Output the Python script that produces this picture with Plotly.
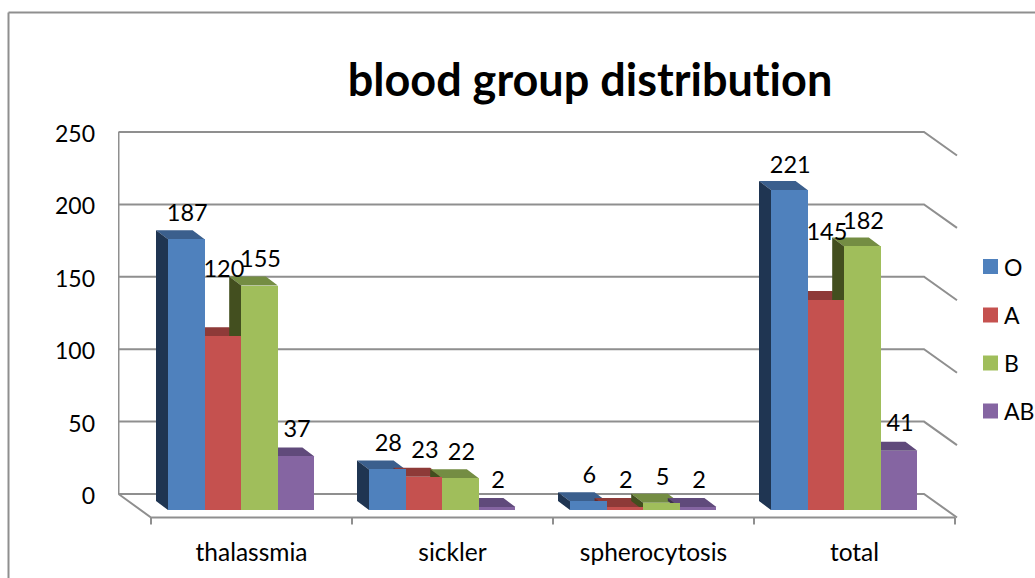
import plotly.graph_objects as go

# ---- data ----
categories = ["thalassmia", "sickler", "spherocytosis", "total"]
series_names = ["O", "A", "B", "AB"]
values_O = [187, 28, 6, 221]
values_A = [120, 23, 2, 145]
values_B = [155, 22, 5, 182]
values_AB = [37, 2, 2, 41]
y_ticks = [0, 50, 100, 150, 200, 250]

# ---- style ----
all_values = [values_O, values_A, values_B, values_AB]
front_colors = ["#4F81BD", "#C5514F", "#A0BE5B", "#8565A2"]
top_colors = ["#3B5F8D", "#8E3A38", "#748D43", "#604A7B"]
side_colors = ["#1F3552", "#6B2B2A", "#434F1F", "#3F3150"]
# label lift above the bar top, indexed [series][category]
label_lift_px = [[24, 24, 24, 23], [65, 25, 25, 66], [24, 24, 24, 23], [25, 25, 25, 26]]
FONT = "Lato"
W, H = 1035, 578
GRAY = "#8f8f8f"

# pixel geometry of the pseudo-3D scene
PX_PER_X = 201.0          # one category
PX_PER_Y = 1.448          # one value unit
X0_PX, Y0_PX = 151.0, 494.0
L, R, T, B = 118, 960, 120, 530


def dx(px):
    return px / PX_PER_X


def dy(px):
    return px / PX_PER_Y


def paper_x(px):
    return (px - L) / (R - L)


def paper_y(px):
    return (B - px) / (B - T)


x_range = [(L - X0_PX) / PX_PER_X, (R - X0_PX) / PX_PER_X]
y_range = [(Y0_PX - B) / PX_PER_Y, (Y0_PX - T) / PX_PER_Y]

bar_w = dx(36.6)
group_pad = dx(17)
base_y = -dy(16)
depth_x, depth_y = dx(12), dy(9)

fig = go.Figure()

# walls, floor and gridlines
wall_x0 = dx(118.5 - X0_PX)
wall_x1 = dx(924 - X0_PX)
diag_x, diag_y = dx(33), dy(23.5)
wx, wy = [], []
for t in y_ticks:
    wx += [wall_x0, wall_x1, wall_x1 + diag_x, None]
    wy += [t, t, t - diag_y, None]
wx += [wall_x0, wall_x0, None]
wy += [y_ticks[0], y_ticks[-1], None]
# floor front edge and left diagonal
wx += [wall_x0, 0, dx(955 - X0_PX), None]
wy += [0, -diag_y, -diag_y, None]
for i in range(len(categories) + 1):
    wx += [i, i, None]
    wy += [-diag_y, -diag_y - dy(7), None]
fig.add_trace(go.Scatter(x=wx, y=wy, mode="lines", line=dict(color=GRAY, width=2),
                         hoverinfo="skip", showlegend=False))

# top and side faces, from left to right
for j, vals in enumerate(all_values):
    tx, ty, sx, sy = [], [], [], []
    for i, v in enumerate(vals):
        left = i + group_pad + j * bar_w
        top = base_y + v
        tx += [left, left + bar_w, left + bar_w - depth_x, left - depth_x, left, None]
        ty += [top, top, top + depth_y, top + depth_y, top, None]
        sx += [left, left - depth_x, left - depth_x, left, left, None]
        sy += [base_y, base_y + depth_y, top + depth_y, top, base_y, None]
    fig.add_trace(go.Scatter(x=tx, y=ty, mode="lines", fill="toself", fillcolor=top_colors[j],
                             line=dict(width=0, color=top_colors[j]), hoverinfo="skip", showlegend=False))
    fig.add_trace(go.Scatter(x=sx, y=sy, mode="lines", fill="toself", fillcolor=side_colors[j],
                             line=dict(width=0, color=side_colors[j]), hoverinfo="skip", showlegend=False))

# front faces on an overlaid copy of the axes, so they cover the side faces
for j, vals in enumerate(all_values):
    xs = [i + group_pad + (j + 0.5) * bar_w for i in range(len(vals))]
    fig.add_trace(go.Bar(x=xs, y=vals, base=base_y, width=bar_w,
                         marker=dict(color=front_colors[j], line=dict(width=0)),
                         name=series_names[j], xaxis="x2", yaxis="y2", showlegend=False))

# data labels
for j, vals in enumerate(all_values):
    xs = [i + group_pad + (j + 0.5) * bar_w + dx(1) for i in range(len(vals))]
    ys = [base_y + v + dy(label_lift_px[j][i]) for i, v in enumerate(vals)]
    fig.add_trace(go.Scatter(x=xs, y=ys, mode="text", text=[str(v) for v in vals], textposition="middle center",
                             textfont=dict(family=FONT, size=23.5, color="black"), xaxis="x2", yaxis="y2",
                             hoverinfo="skip", showlegend=False, cliponaxis=False))

# key at the right
legend_rows_px = [266.5, 315, 363, 411]
shapes = [
    dict(type="line", xref="paper", yref="paper", x0=paper_x(8.5), x1=paper_x(1035),
         y0=paper_y(12.5), y1=paper_y(12.5), line=dict(color=GRAY, width=2)),
    dict(type="line", xref="paper", yref="paper", x0=paper_x(8.5), x1=paper_x(8.5),
         y0=paper_y(12.5), y1=paper_y(578), line=dict(color=GRAY, width=2)),
]
annotations = []
for j, name in enumerate(series_names):
    yc = legend_rows_px[j]
    shapes.append(dict(type="rect", xref="paper", yref="paper", x0=paper_x(983), x1=paper_x(998),
                       y0=paper_y(yc - 7.5), y1=paper_y(yc + 7.5), fillcolor=front_colors[j], line=dict(width=0)))
    annotations.append(dict(text=name, xref="paper", yref="paper", x=paper_x(1005), y=paper_y(yc),
                            xanchor="left", yanchor="middle", showarrow=False, xshift=-3,
                            font=dict(family=FONT, size=23, color="black")))

fig.update_layout(
    width=W, height=H,
    margin=dict(l=L, r=W - R, t=T, b=H - B, autoexpand=False),
    paper_bgcolor="white", plot_bgcolor="rgba(0,0,0,0)",
    font=dict(family=FONT, size=23, color="black"),
    title=dict(text="<b>blood group distribution</b>", font=dict(family=FONT, size=45, color="black"),
               x=590 / W, xanchor="center", y=1 - 80 / H, yanchor="middle"),
    barmode="overlay", bargap=0, showlegend=False,
    xaxis=dict(range=x_range, showgrid=False, zeroline=False, showline=False, ticks="",
               tickvals=[i + 0.5 for i in range(len(categories))], ticktext=categories,
               ticklabelstandoff=5, tickfont=dict(family=FONT, size=24.5)),
    yaxis=dict(range=y_range, showgrid=False, zeroline=False, showline=False, ticks="",
               tickvals=y_ticks, ticklabelstandoff=22, ticklabelshift=2),
    xaxis2=dict(range=x_range, overlaying="x", visible=False),
    yaxis2=dict(range=y_range, overlaying="y", visible=False),
    shapes=shapes, annotations=annotations,
)

fig.write_html("out.html", config=dict(displayModeBar=False), post_script=(
    "document.body.style.margin='0';"
    "var s=document.createElement('style');"
    "s.textContent='svg text{font-variant-ligatures:none !important;font-feature-settings:\"liga\" 0,\"clig\" 0 !important;}';"
    "document.head.appendChild(s);"
))
